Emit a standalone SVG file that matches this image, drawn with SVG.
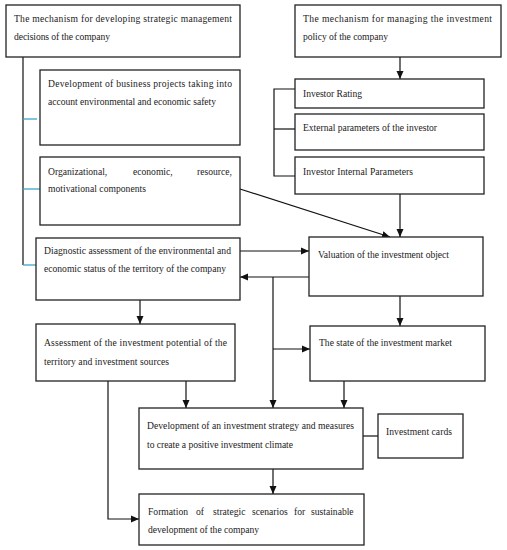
<svg xmlns="http://www.w3.org/2000/svg" width="507" height="550" viewBox="0 0 507 550">
<style>
.box{fill:#fff;stroke:#222;stroke-width:1.3}
.t{font-family:"Liberation Serif","DejaVu Serif",serif;font-size:9.6px;fill:#222}
.c{fill:none;stroke:#111;stroke-width:1.2}
.b{fill:none;stroke:#3aa8c8;stroke-width:1.3}
</style>
<defs>
<marker id="ah" markerWidth="8" markerHeight="8" viewBox="0 0 8 8" refX="8" refY="4" orient="auto" markerUnits="userSpaceOnUse">
<path d="M0,0.5 L8,4 L0,7.5 Z" fill="#111"/>
</marker>
</defs>
<rect width="507" height="550" fill="#fff"/>
<g id="connectors">
<polyline class="c" points="23,57 23,265"/>
<line class="b" x1="23" y1="119" x2="37" y2="119"/>
<line class="b" x1="23" y1="189" x2="40" y2="189"/>
<line class="b" x1="23" y1="265" x2="36" y2="265"/>
<line class="c" x1="400" y1="57" x2="400" y2="79" marker-end="url(#ah)"/>
<polyline class="c" points="295,89 274,89 274,176 295,176"/>
<line class="c" x1="274" y1="129" x2="295" y2="129"/>
<line class="c" x1="400" y1="194" x2="400" y2="237" marker-end="url(#ah)"/>
<line class="c" x1="240" y1="189" x2="390" y2="237" marker-end="url(#ah)"/>
<line class="c" x1="240" y1="251" x2="309" y2="251" marker-end="url(#ah)"/>
<line class="c" x1="309" y1="277" x2="240" y2="277" marker-end="url(#ah)"/>
<line class="c" x1="273" y1="277" x2="273" y2="408" marker-end="url(#ah)"/>
<line class="c" x1="273" y1="349" x2="310" y2="349" marker-end="url(#ah)"/>
<line class="c" x1="400" y1="296" x2="400" y2="326" marker-end="url(#ah)"/>
<line class="c" x1="344" y1="381" x2="344" y2="408" marker-end="url(#ah)"/>
<line class="c" x1="140" y1="300" x2="140" y2="324" marker-end="url(#ah)"/>
<line class="c" x1="186" y1="381" x2="186" y2="408" marker-end="url(#ah)"/>
<line class="c" x1="363" y1="436" x2="378" y2="436"/>
<line class="c" x1="273" y1="469" x2="273" y2="494" marker-end="url(#ah)"/>
<polyline class="c" points="108,381 108,519 139,519" marker-end="url(#ah)"/>
</g>
<g id="n1"><rect class="box" x="6" y="5" width="234" height="52"/>
<text class="t" x="14" y="22" textLength="218" lengthAdjust="spacing">The mechanism for developing strategic management</text>
<text class="t" x="14" y="40" textLength="96" lengthAdjust="spacing">decisions of the company</text></g>
<g id="n2"><rect class="box" x="40" y="70" width="200" height="75"/>
<text class="t" x="48" y="87" textLength="184" lengthAdjust="spacing">Development of business projects taking into</text>
<text class="t" x="48" y="105" textLength="168" lengthAdjust="spacing">account environmental and economic safety</text></g>
<g id="n3"><rect class="box" x="40" y="157" width="200" height="68"/>
<text class="t" y="175"><tspan x="48">Organizational,</tspan><tspan x="133">economic,</tspan><tspan x="197">resource,</tspan></text>
<text class="t" x="48" y="192" textLength="98" lengthAdjust="spacing">motivational components</text></g>
<g id="n4"><rect class="box" x="36" y="238" width="204" height="62"/>
<text class="t" x="44" y="254" textLength="187" lengthAdjust="spacing">Diagnostic assessment of the environmental and</text>
<text class="t" x="44" y="272" textLength="182" lengthAdjust="spacing">economic status of the territory of the company</text></g>
<g id="r1"><rect class="box" x="295" y="5" width="206" height="52"/>
<text class="t" x="303" y="22" textLength="189" lengthAdjust="spacing">The mechanism for managing the investment</text>
<text class="t" x="303" y="40" textLength="85" lengthAdjust="spacing">policy of the company</text></g>
<g id="r2"><rect class="box" x="295" y="79" width="189" height="29"/>
<text class="t" x="303" y="97" textLength="59" lengthAdjust="spacing">Investor Rating</text></g>
<g id="r3"><rect class="box" x="295" y="114" width="189" height="36"/>
<text class="t" x="303" y="131" textLength="134" lengthAdjust="spacing">External parameters of the investor</text></g>
<g id="r4"><rect class="box" x="295" y="157" width="189" height="37"/>
<text class="t" x="303" y="175" textLength="110" lengthAdjust="spacing">Investor Internal Parameters</text></g>
<g id="val"><rect class="box" x="309" y="237" width="174" height="59"/>
<text class="t" x="318" y="258" textLength="131" lengthAdjust="spacing">Valuation of the investment object</text></g>
<g id="state"><rect class="box" x="310" y="326" width="175" height="55"/>
<text class="t" x="319" y="346" textLength="133" lengthAdjust="spacing">The state of the investment market</text></g>
<g id="assess"><rect class="box" x="36" y="324" width="199" height="57"/>
<text class="t" x="44" y="346" textLength="183" lengthAdjust="spacing">Assessment of the investment potential of the</text>
<text class="t" x="44" y="365" textLength="125" lengthAdjust="spacing">territory and investment sources</text></g>
<g id="dev"><rect class="box" x="139" y="408" width="224" height="61"/>
<text class="t" x="147" y="429" textLength="207" lengthAdjust="spacing">Development of an investment strategy and measures</text>
<text class="t" x="147" y="448" textLength="146" lengthAdjust="spacing">to create a positive investment climate</text></g>
<g id="cards"><rect class="box" x="378" y="414" width="85" height="44"/>
<text class="t" x="386" y="435" textLength="66" lengthAdjust="spacing">Investment cards</text></g>
<g id="form"><rect class="box" x="139" y="494" width="225" height="51"/>
<text class="t" y="515"><tspan x="148">Formation</tspan><tspan x="196">of</tspan><tspan x="213">strategic</tspan><tspan x="252">scenarios</tspan><tspan x="294">for</tspan><tspan x="311">sustainable</tspan></text>
<text class="t" x="148" y="533" textLength="111" lengthAdjust="spacing">development of the company</text></g>
</svg>
